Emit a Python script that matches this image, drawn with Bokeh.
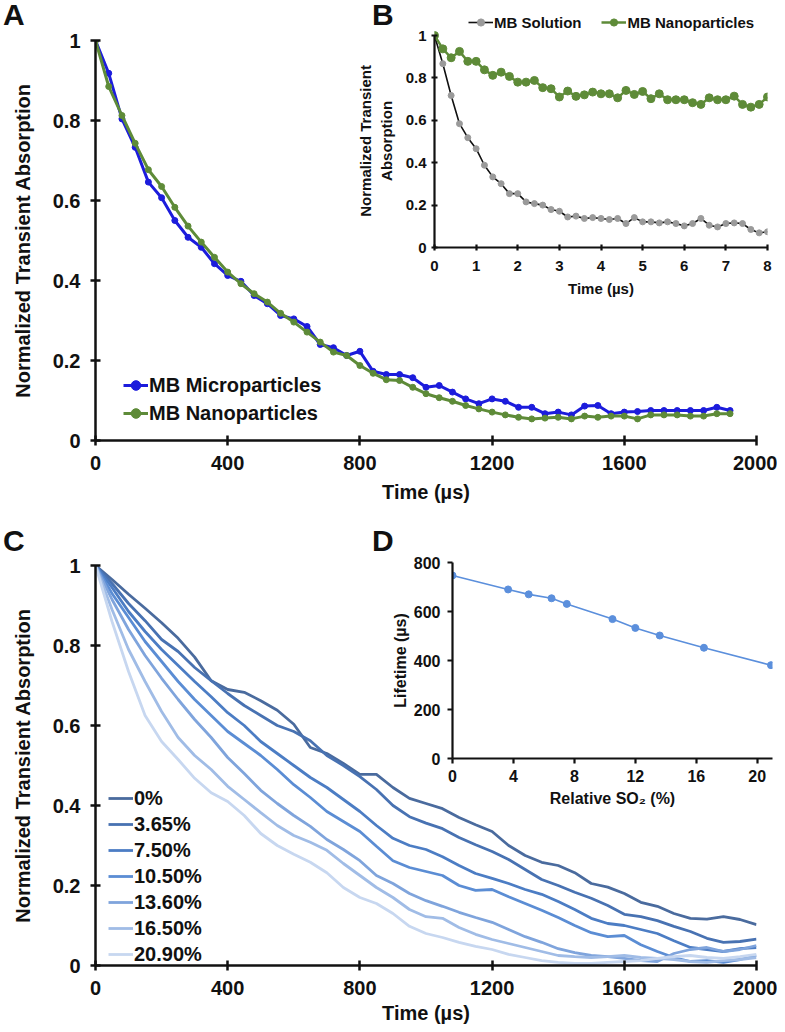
from bokeh.plotting import figure
from bokeh.models import Div, FixedTicker, NumeralTickFormatter, Range1d
from bokeh.embed import file_html
from bokeh.resources import INLINE

FONT = "Liberation Sans"
INK = "#111111"
NB = "\u00a0"

# ---------------- Panel A data ----------------
a_time = [0, 40, 80, 120, 160, 200, 240, 280, 320, 360, 400, 440, 480, 520, 560, 600,
          640, 680, 720, 760, 800, 840, 880, 920, 960, 1000, 1040, 1080, 1120, 1160,
          1200, 1240, 1280, 1320, 1360, 1400, 1440, 1480, 1520, 1560, 1600, 1640, 1680,
          1720, 1760, 1800, 1840, 1880, 1920]
a_micro = [1.0, 0.918, 0.804, 0.733, 0.646, 0.607, 0.55, 0.508, 0.483, 0.442, 0.4125,
           0.398, 0.3625, 0.342, 0.3125, 0.304, 0.285, 0.24, 0.232, 0.2125, 0.223, 0.173,
           0.165, 0.165, 0.157, 0.133, 0.1375, 0.121, 0.104, 0.092, 0.104, 0.098, 0.083,
           0.083, 0.067, 0.071, 0.064, 0.086, 0.0875, 0.067, 0.071, 0.0725, 0.075, 0.075,
           0.075, 0.075, 0.075, 0.083, 0.075]
a_nano = [1.0, 0.885, 0.8125, 0.743, 0.677, 0.635, 0.583, 0.536, 0.496, 0.458, 0.421,
          0.392, 0.367, 0.346, 0.318, 0.296, 0.271, 0.246, 0.221, 0.2125, 0.1875, 0.168,
          0.152, 0.15, 0.133, 0.117, 0.107, 0.098, 0.0875, 0.079, 0.071, 0.064, 0.058,
          0.054, 0.056, 0.058, 0.054, 0.061, 0.058, 0.061, 0.061, 0.054, 0.064, 0.064,
          0.064, 0.061, 0.061, 0.067, 0.067]

# ---------------- Panel B data ----------------
b_time = [0.0, 0.2, 0.4, 0.6, 0.8, 1.0, 1.2, 1.4, 1.6, 1.8, 2.0, 2.2, 2.4, 2.6, 2.8, 3.0,
          3.2, 3.4, 3.6, 3.8, 4.0, 4.2, 4.4, 4.6, 4.8, 5.0, 5.2, 5.4, 5.6, 5.8, 6.0, 6.2,
          6.4, 6.6, 6.8, 7.0, 7.2, 7.4, 7.6, 7.8, 8.0]
b_solution = [1.0, 0.867, 0.717, 0.584, 0.518, 0.466, 0.388, 0.333, 0.301, 0.254, 0.254,
              0.215, 0.207, 0.2, 0.179, 0.171, 0.144, 0.148, 0.137, 0.141, 0.137, 0.132,
              0.137, 0.113, 0.141, 0.121, 0.121, 0.116, 0.121, 0.113, 0.102, 0.113, 0.137,
              0.105, 0.097, 0.113, 0.116, 0.113, 0.085, 0.069, 0.074]
b_nano = [1.0, 0.937, 0.895, 0.925, 0.878, 0.878, 0.838, 0.812, 0.827, 0.807, 0.78, 0.78,
          0.788, 0.754, 0.749, 0.71, 0.738, 0.713, 0.72, 0.733, 0.725, 0.725, 0.706, 0.741,
          0.722, 0.736, 0.702, 0.725, 0.697, 0.697, 0.697, 0.683, 0.675, 0.706, 0.697,
          0.697, 0.714, 0.675, 0.662, 0.675, 0.71]

# ---------------- Panel C data ----------------
c_time = [0, 50, 100, 150, 200, 250, 300, 350, 400, 450, 500, 550, 600, 650, 700, 750,
          800, 850, 900, 950, 1000, 1050, 1100, 1150, 1200, 1250, 1300, 1350, 1400, 1450,
          1500, 1550, 1600, 1650, 1700, 1750, 1800, 1850, 1900, 1950, 2000]
c_labels = ["0%", "3.65%", "7.50%", "10.50%", "13.60%", "16.50%", "20.90%"]
c_so2_0 = [1.000, 0.965, 0.928, 0.893, 0.857, 0.818, 0.771, 0.712, 0.690, 0.683, 0.662,
           0.638, 0.603, 0.545, 0.530, 0.505, 0.478, 0.478, 0.445, 0.418, 0.405, 0.392,
           0.370, 0.352, 0.335, 0.300, 0.275, 0.258, 0.250, 0.232, 0.205, 0.196, 0.180,
           0.158, 0.148, 0.130, 0.118, 0.116, 0.122, 0.115, 0.102]
c_so2_365 = [1.0, 0.955, 0.905, 0.862, 0.815, 0.785, 0.745, 0.712, 0.680, 0.650, 0.625,
             0.600, 0.585, 0.562, 0.525, 0.500, 0.472, 0.440, 0.400, 0.372, 0.356, 0.342,
             0.320, 0.302, 0.285, 0.265, 0.240, 0.215, 0.200, 0.183, 0.168, 0.150, 0.128,
             0.122, 0.112, 0.098, 0.085, 0.068, 0.058, 0.060, 0.066]
c_so2_750 = [1.0, 0.945, 0.885, 0.835, 0.790, 0.750, 0.710, 0.672, 0.632, 0.600, 0.560,
             0.530, 0.500, 0.470, 0.445, 0.415, 0.385, 0.350, 0.318, 0.300, 0.290, 0.272,
             0.250, 0.230, 0.218, 0.205, 0.190, 0.178, 0.160, 0.140, 0.118, 0.105, 0.100,
             0.090, 0.080, 0.062, 0.045, 0.040, 0.035, 0.042, 0.045]
c_so2_1050 = [1.0, 0.93, 0.87, 0.81, 0.76, 0.71, 0.665, 0.625, 0.585, 0.555, 0.525, 0.490,
              0.452, 0.420, 0.385, 0.360, 0.335, 0.298, 0.262, 0.245, 0.235, 0.225, 0.200,
              0.188, 0.190, 0.172, 0.155, 0.138, 0.120, 0.100, 0.082, 0.072, 0.075, 0.052,
              0.035, 0.020, 0.010, 0.012, 0.008, 0.015, 0.025]
c_so2_1360 = [1.0, 0.915, 0.840, 0.775, 0.718, 0.665, 0.615, 0.570, 0.520, 0.480, 0.438,
              0.405, 0.375, 0.348, 0.315, 0.290, 0.262, 0.225, 0.205, 0.180, 0.162, 0.148,
              0.133, 0.120, 0.108, 0.090, 0.072, 0.058, 0.042, 0.032, 0.025, 0.022, 0.018,
              0.012, 0.010, 0.030, 0.040, 0.045, 0.035, 0.040, 0.050]
c_so2_1650 = [1.0, 0.89, 0.79, 0.71, 0.635, 0.570, 0.525, 0.490, 0.448, 0.415, 0.382,
              0.350, 0.325, 0.308, 0.288, 0.255, 0.225, 0.195, 0.170, 0.140, 0.122, 0.118,
              0.095, 0.078, 0.065, 0.055, 0.045, 0.035, 0.025, 0.022, 0.020, 0.022, 0.025,
              0.020, 0.018, 0.015, 0.010, 0.008, 0.012, 0.015, 0.020]
c_so2_2090 = [1.0, 0.86, 0.735, 0.625, 0.560, 0.515, 0.468, 0.432, 0.410, 0.375, 0.330,
              0.300, 0.278, 0.258, 0.232, 0.195, 0.170, 0.155, 0.130, 0.098, 0.080, 0.070,
              0.058, 0.048, 0.040, 0.028, 0.020, 0.012, 0.008, 0.005, 0.005, 0.008, 0.010,
              0.012, 0.018, 0.022, 0.025, 0.020, 0.018, 0.022, 0.028]
c_colors = ["#4A6B9E", "#4872B2", "#4C7DC4", "#5B8DD4", "#7FA4DC", "#A0BCE6", "#C7D7F0"]

# ---------------- Panel D data ----------------
d_so2 = [0, 3.65, 5.0, 6.5, 7.5, 10.5, 12.0, 13.6, 16.5, 20.9]
d_lifetime = [747, 690, 670, 654, 631, 569, 533, 502, 452, 381]

panel_letters = ["A", "B", "C", "D"]


def mk(w, h, xr, yr, left, right, top, bottom, top_px):
    p = figure(width=w, height=h, x_range=Range1d(*xr), y_range=Range1d(*yr),
               output_backend="svg", toolbar_location=None,
               min_border_left=left, min_border_right=right,
               min_border_top=top, min_border_bottom=bottom,
               background_fill_color=None, border_fill_color=None,
               outline_line_color=None,
               styles={"position": "absolute", "left": "8px", "top": f"{top_px + 8}px"})
    p.xgrid.visible = False
    p.ygrid.visible = False
    return p


def style_axis(ax, fs, tin, tout, lw, std, lstd, lfs=None):
    ax.axis_line_width = lw
    ax.axis_line_color = INK
    ax.major_tick_line_width = lw
    ax.major_tick_line_color = INK
    ax.major_tick_in = tin
    ax.major_tick_out = tout
    ax.minor_tick_line_color = None
    ax.major_label_text_font = FONT
    ax.major_label_text_font_style = "bold"
    ax.major_label_text_font_size = f"{fs}px"
    ax.major_label_text_color = INK
    ax.major_label_standoff = std
    ax.axis_label_text_font = FONT
    ax.axis_label_text_font_style = "bold"
    ax.axis_label_text_font_size = f"{lfs or fs}px"
    ax.axis_label_text_color = INK
    ax.axis_label_standoff = lstd


def letter(txt, left, top):
    return Div(text=txt, width=40, height=36,
               styles={"position": "absolute", "left": f"{left}px", "top": f"{top}px",
                       "font-family": FONT, "font-weight": "bold", "font-size": "30px",
                       "line-height": "30px", "color": INK, "margin": "0px"})


def style_legend(lg, fs, gh, spacing):
    lg.margin = 0
    lg.padding = 0
    lg.spacing = spacing
    lg.border_line_color = None
    lg.background_fill_color = None
    lg.label_text_font = FONT
    lg.label_text_font_style = "bold"
    lg.label_text_font_size = f"{fs}px"
    lg.label_text_color = INK
    lg.glyph_width = 25
    lg.glyph_height = gh
    lg.label_height = gh
    lg.label_standoff = 1


BLUE = "#1C1CDC"
GREEN = "#5E8B38"

# ---------------- A ----------------
pA = mk(769, 510, (0, 2000), (0, 1), 86, 21, 32, 78, 0)
pA.line(a_time, a_micro, color=BLUE, line_width=3, legend_label="MB Microparticles")
pA.scatter(a_time, a_micro, color=BLUE, size=6, legend_label="MB Microparticles")
pA.line(a_time, a_nano, color=GREEN, line_width=3, legend_label="MB Nanoparticles")
pA.scatter(a_time, a_nano, color=GREEN, size=6, legend_label="MB Nanoparticles")
pA.xaxis.axis_label = "Time (µs)"
pA.yaxis.axis_label = "Normalized Transient Absorption"
pA.xaxis.ticker = FixedTicker(ticks=[0, 400, 800, 1200, 1600, 2000])
pA.yaxis.ticker = FixedTicker(ticks=[0, 0.2, 0.4, 0.6, 0.8, 1])
pA.yaxis.formatter = NumeralTickFormatter(format="0.[0]")
style_axis(pA.xaxis[0], 20, 5, 5, 2.5, 10, 8)
style_axis(pA.yaxis[0], 20, 5, 5, 2.5, 10, 16)
style_legend(pA.legend[0], 20, 24, 4)
pA.legend[0].location = (28, 15)

# ---------------- B ----------------
# frame extended upward (values above 1 are empty) so the legend sits inside it
pB = mk(769, 510, (0, 8), (0, 234 / 212), 426, 10, 5, 271, 0)
pB.line(b_time, b_solution, color="#111111", line_width=1.6, legend_label="MB Solution")
pB.scatter(b_time, b_solution, color="#9A9A9A", size=6, legend_label="MB Solution")
pB.line(b_time, b_nano, color=GREEN, line_width=2.5, legend_label="MB Nanoparticles")
pB.scatter(b_time, b_nano, color=GREEN, size=8, legend_label="MB Nanoparticles")
pB.xaxis.axis_label = "Time (µs)"
pB.yaxis.axis_label = "Normalized Transient" + NB * 5 + "\nAbsorption" + NB * 5
pB.xaxis.ticker = FixedTicker(ticks=[0, 1, 2, 3, 4, 5, 6, 7, 8])
pB.yaxis.ticker = FixedTicker(ticks=[0, 0.2, 0.4, 0.6, 0.8, 1])
pB.yaxis.bounds = (0, 1)
pB.yaxis.formatter = NumeralTickFormatter(format="0.[0]")
style_axis(pB.xaxis[0], 15, 3, 3, 2.2, 10, 6)
style_axis(pB.yaxis[0], 15, 3, 3, 2.2, 5, 8)
legB = pB.legend[0]
style_legend(legB, 15, 18, 20)
legB.orientation = "horizontal"
legB.location = (34, 216)

# ---------------- C ----------------
pC = mk(769, 512, (0, 2000), (0, 1), 86, 21, 47, 65, 510)
c_series = [c_so2_0, c_so2_365, c_so2_750, c_so2_1050, c_so2_1360, c_so2_1650, c_so2_2090]
for vals, lab, col in zip(c_series, c_labels, c_colors):
    pC.line(c_time, vals, color=col, line_width=2.8, legend_label=lab)
pC.xaxis.axis_label = "Time (µs)"
pC.yaxis.axis_label = "Normalized Transient Absorption"
pC.xaxis.ticker = FixedTicker(ticks=[0, 400, 800, 1200, 1600, 2000])
pC.yaxis.ticker = FixedTicker(ticks=[0, 0.2, 0.4, 0.6, 0.8, 1])
pC.yaxis.formatter = NumeralTickFormatter(format="0.[0]")
style_axis(pC.xaxis[0], 20, 5, 5, 2.5, 10, 4)
style_axis(pC.yaxis[0], 20, 5, 5, 2.5, 10, 16)
style_legend(pC.legend[0], 20, 24, 2)
pC.legend[0].location = (13, -1)

# ---------------- D ----------------
pD = mk(769, 506, (0, 21), (0, 800), 444, 5, 44, 266, 510)
pD.line(d_so2, d_lifetime, color="#5B8FDC", line_width=1.6)
pD.scatter(d_so2, d_lifetime, color="#5B8FDC", size=7)
pD.xaxis.axis_label = "Relative SO₂ (%)"
pD.yaxis.axis_label = "Lifetime (µs)"
pD.xaxis.ticker = FixedTicker(ticks=[0, 4, 8, 12, 16, 20])
pD.yaxis.ticker = FixedTicker(ticks=[0, 200, 400, 600, 800])
style_axis(pD.xaxis[0], 16, 0, 5, 2.2, 6, 5)
style_axis(pD.yaxis[0], 16, 0, 5, 2.2, 7, 2)

letters = [letter(t, lx, ty) for t, lx, ty in
           zip(panel_letters, [3, 372, 3, 372], [0, 0, 526, 526])]

try:
    from bokeh.models import Pane
    root = Pane(elements=[pA, pB, pC, pD] + letters)
except Exception:
    from bokeh.models import Column
    root = Column(children=[Column(children=[p]) for p in [pA, pB, pC, pD] + letters])

open("out.html", "w").write(file_html(root, INLINE))
